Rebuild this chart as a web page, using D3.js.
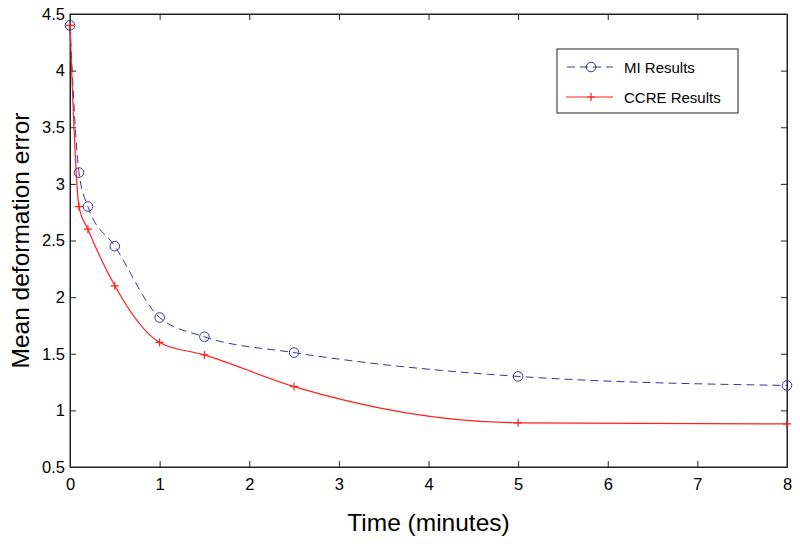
<!DOCTYPE html>
<html><head><meta charset="utf-8">
<script src="https://cdn.jsdelivr.net/npm/d3@7"></script>
<style>body{margin:0;background:#fff}svg{display:block}text{font-family:"Liberation Sans",Arial,sans-serif;fill:#000}</style>
</head><body>
<svg id="c" width="800" height="544"></svg>
<script>
const times = [0, 0.1, 0.2, 0.5, 1, 1.5, 2.5, 5, 8];
const miValues = [4.4, 3.1, 2.8, 2.45, 1.82, 1.65, 1.51, 1.30, 1.22];
const ccreValues = [4.4, 2.8, 2.6, 2.1, 1.6, 1.49, 1.21, 0.89, 0.88];
const xTicks = [0, 1, 2, 3, 4, 5, 6, 7, 8];
const yTicks = [0.5, 1, 1.5, 2, 2.5, 3, 3.5, 4, 4.5];
const seriesNames = ["MI Results", "CCRE Results"];

const svg = d3.select("#c");
const L = 70, R = 787, T = 14, B = 467;
const x = d3.scaleLinear().domain([0, 8]).range([L, R]);
const y = d3.scaleLinear().domain([0.5, 4.5]).range([B, T]);
const axisColor = "#222";
const tickLen = 6;

// box
svg.append("rect").attr("x", L).attr("y", T).attr("width", R - L).attr("height", B - T)
  .attr("fill", "none").attr("stroke", axisColor).attr("stroke-width", 1);

// axes with inward ticks
const xAxis = svg.append("g").attr("transform", `translate(0,${B})`)
  .call(d3.axisBottom(x).tickValues(xTicks).tickSize(-tickLen).tickPadding(11).tickFormat(d3.format("d")));
const xAxisTop = svg.append("g").attr("transform", `translate(0,${T})`)
  .call(d3.axisTop(x).tickValues(xTicks).tickSize(-tickLen).tickFormat(""));
const yAxis = svg.append("g").attr("transform", `translate(${L},0)`)
  .call(d3.axisLeft(y).tickValues(yTicks).tickSize(-tickLen).tickPadding(5).tickFormat(d => String(d)));
const yAxisR = svg.append("g").attr("transform", `translate(${R},0)`)
  .call(d3.axisRight(y).tickValues(yTicks).tickSize(-tickLen).tickFormat(""));
[xAxis, xAxisTop, yAxis, yAxisR].forEach(g => {
  g.select(".domain").attr("stroke", axisColor);
  g.selectAll(".tick line").attr("stroke", axisColor);
  g.selectAll("text").attr("font-size", 16.5).attr("font-family", '"Liberation Sans",Arial,sans-serif').attr("fill", "#000");
});

// titles
svg.append("text").attr("x", (L + R) / 2).attr("y", 531).attr("text-anchor", "middle")
  .attr("font-size", 24.5).text("Time (minutes)");
svg.append("text").attr("transform", `translate(29,${(T + B) / 2}) rotate(-90)`).attr("text-anchor", "middle")
  .attr("font-size", 24.5).text("Mean deformation error");

const miColor = "#3535a0", ccreColor = "#ff2020";
const line = d3.line().x(d => x(d[0])).y(d => y(d[1])).curve(d3.curveMonotoneX);
const miData = times.map((t, i) => [t, miValues[i]]);
const ccreData = times.map((t, i) => [t, ccreValues[i]]);

svg.append("path").datum(miData).attr("d", line).attr("fill", "none")
  .attr("stroke", miColor).attr("stroke-width", 1).attr("stroke-dasharray", "8,5");
svg.append("path").datum(ccreData).attr("d", line).attr("fill", "none")
  .attr("stroke", ccreColor).attr("stroke-width", 1.2);

function circleMarker(g, cx, cy) {
  g.append("circle").attr("cx", cx).attr("cy", cy).attr("r", 4.8)
    .attr("fill", "none").attr("stroke", miColor).attr("stroke-width", 1);
}
function plusMarker(g, cx, cy) {
  const s = 4;
  g.append("path").attr("d", `M${cx - s},${cy}H${cx + s}M${cx},${cy - s}V${cy + s}`)
    .attr("stroke", ccreColor).attr("stroke-width", 1.2).attr("fill", "none");
}
const mk = svg.append("g");
miData.forEach(d => circleMarker(mk, x(d[0]), y(d[1])));
ccreData.forEach(d => plusMarker(mk, x(d[0]), y(d[1])));

// legend
const lg = svg.append("g");
lg.append("rect").attr("x", 557).attr("y", 49).attr("width", 181).attr("height", 64)
  .attr("fill", "#fff").attr("stroke", axisColor).attr("stroke-width", 1);
lg.append("line").attr("x1", 566).attr("x2", 613).attr("y1", 67).attr("y2", 67)
  .attr("stroke", miColor).attr("stroke-dasharray", "8,5").attr("stroke-dashoffset", -1);
circleMarker(lg, 591, 67);
lg.append("line").attr("x1", 566).attr("x2", 613).attr("y1", 97).attr("y2", 97)
  .attr("stroke", ccreColor).attr("stroke-width", 1.2);
plusMarker(lg, 591, 97);
lg.append("text").attr("x", 624).attr("y", 72.5).attr("font-size", 15).text(seriesNames[0]);
lg.append("text").attr("x", 624).attr("y", 102.5).attr("font-size", 15).text(seriesNames[1]);
</script>
</body></html>
